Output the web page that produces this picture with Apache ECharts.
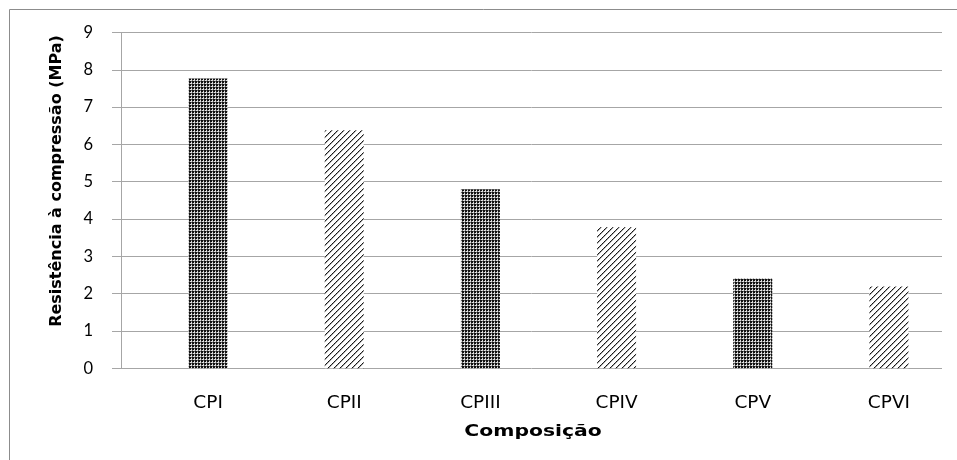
<!DOCTYPE html>
<html><head><meta charset="utf-8">
<script src="https://cdn.jsdelivr.net/npm/echarts@6/dist/echarts.min.js"></script>
<style>html,body{margin:0;padding:0;background:#fff}#c{width:957px;height:460px}</style>
</head><body><div id="c"></div>
<script>
const categories = ['CPI', 'CPII', 'CPIII', 'CPIV', 'CPV', 'CPVI'];
const values = [7.77, 6.38, 4.80, 3.78, 2.41, 2.19];
const yTicks = [0, 1, 2, 3, 4, 5, 6, 7, 8, 9];
const yName = 'Resistência à compressão (MPa)';
const xName = 'Composição';

function dotPattern() {
  const c = document.createElement('canvas'); c.width = 3; c.height = 3;
  const g = c.getContext('2d');
  g.fillStyle = '#e0e0e0'; g.fillRect(0, 0, 3, 3);
  g.fillStyle = '#111'; g.fillRect(0, 0, 2, 2);
  g.fillStyle = '#666'; g.fillRect(2, 0, 1, 1); g.fillRect(0, 2, 1, 1);
  return c;
}
function hatchPattern() {
  const n = 6;
  const c = document.createElement('canvas'); c.width = n; c.height = n;
  const g = c.getContext('2d');
  g.fillStyle = '#fff'; g.fillRect(0, 0, n, n);
  for (let x = 0; x < n; x++) {
    const y = n - 1 - x;
    g.fillStyle = x % 2 ? '#333' : '#111'; g.fillRect(x, y, 1, 1);
    g.fillStyle = '#aaa'; g.fillRect((x + 1) % n, y, 1, 1);
  }
  return c;
}
const dots = { image: dotPattern(), repeat: 'repeat' };
const hatch = { image: hatchPattern(), repeat: 'repeat' };

const chart = echarts.init(document.getElementById('c'), null, { renderer: 'canvas' });
chart.setOption({
  animation: false,
  backgroundColor: '#fff',
  grid: [
    { left: 121, right: 15, top: 32.5, bottom: 91.7 },
    { left: 140, width: 820, top: 32.5, bottom: 91.7 }
  ],
  xAxis: [
    { gridIndex: 0, type: 'category', data: categories, show: false },
    { gridIndex: 1, type: 'category', data: categories,
      axisLine: { show: false }, axisTick: { show: false },
      axisLabel: { margin: 25, color: '#000', fontSize: 18.5, fontFamily: 'DejaVu Sans' } }
  ],
  yAxis: [
    { gridIndex: 0, type: 'value', min: yTicks[0], max: yTicks[yTicks.length - 1], interval: 1,
      axisLine: { show: true, lineStyle: { color: '#a6a6a6', width: 1 } },
      axisTick: { show: true, length: 9, lineStyle: { color: '#a6a6a6' } },
      axisLabel: { margin: 28, color: '#000', fontSize: 16.5, fontFamily: 'Lato' },
      splitLine: { show: true, lineStyle: { color: '#a6a6a6', width: 1 } } },
    { gridIndex: 1, type: 'value', min: yTicks[0], max: yTicks[yTicks.length - 1], show: false }
  ],
  series: [{
    type: 'bar', xAxisIndex: 1, yAxisIndex: 1, barWidth: 39,
    data: values.map((v, i) => ({ value: v, itemStyle: { color: i % 2 ? hatch : dots } }))
  }],
  graphic: [
    { type: 'line', shape: { x1: 9.5, y1: 9.5, x2: 957, y2: 9.5 }, style: { stroke: '#8c8c8c', lineWidth: 1 } },
    { type: 'line', shape: { x1: 9.5, y1: 9.5, x2: 9.5, y2: 460 }, style: { stroke: '#8c8c8c', lineWidth: 1 } },
    { type: 'text', x: 57, y: 181, rotation: Math.PI / 2,
      style: { text: yName, font: 'bold 16px "DejaVu Sans"', fill: '#000', align: 'center', verticalAlign: 'middle' } },
    { type: 'text', x: 533, y: 432, scaleX: 1.27,
      style: { text: xName, font: 'bold 16px "DejaVu Sans"', fill: '#000', align: 'center', verticalAlign: 'middle' } }
  ]
});
</script></body></html>
